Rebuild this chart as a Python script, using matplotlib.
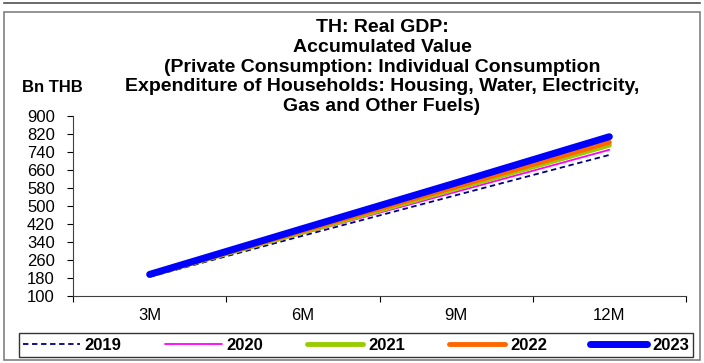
import numpy as np
import matplotlib
matplotlib.use('Agg')
import matplotlib.pyplot as plt
from matplotlib.patches import Rectangle
from matplotlib.lines import Line2D

plt.rcParams['font.family'] = ['Liberation Sans', 'DejaVu Sans']

periods = ['3M', '6M', '9M', '12M']
years = ['2019', '2020', '2021', '2022', '2023']
vals = {
    '2019': [185, 368, 548, 727],
    '2020': [190, 377, 563, 750],
    '2021': [192, 384, 577, 770],
    '2022': [193, 390, 586, 783],
    '2023': [196, 400, 603, 808],
}
styles = {
    '2019': dict(color='#000080', lw=1.3, ls=(0, (3, 2))),
    '2020': dict(color='#FF00FF', lw=1.3, ls='-'),
    '2021': dict(color='#99CC00', lw=3.5, ls='-'),
    '2022': dict(color='#FF6600', lw=3.5, ls='-'),
    '2023': dict(color='#0000FF', lw=5, ls='-'),
}

fig = plt.figure(figsize=(7.04, 3.63), dpi=100)
W, H = 704, 363
ax = fig.add_axes([73 / W, 1 - 296 / H, (686 - 73) / W, (296 - 116) / H])

x = np.arange(len(periods))
for y in years:
    st = styles[y]
    ax.plot(x, vals[y], color=st['color'], lw=st['lw'], ls=st['ls'],
            solid_capstyle='round', label=y)

ax.set_xlim(-0.5, 3.5)
ax.set_ylim(100, 900)
ax.set_yticks(np.arange(100, 901, 80))
ax.set_xticks(np.arange(-0.5, 3.6, 1))
ax.set_xticklabels([])
ax.set_xticks(x, minor=True)
ax.set_xticklabels(periods, minor=True)
ax.tick_params(axis='x', which='minor', length=0, labelsize=12, pad=9)
ax.tick_params(axis='x', which='major', length=4, direction='out')
ax.tick_params(axis='y', length=4, labelsize=12, pad=9, direction='out')
for s in ['top', 'right']:
    ax.spines[s].set_visible(False)
for s in ['left', 'bottom']:
    ax.spines[s].set_color('#404040')

title = ("TH: Real GDP:\nAccumulated Value\n(Private Consumption: Individual Consumption\n"
         "Expenditure of Households: Housing, Water, Electricity,\nGas and Other Fuels)")
fig.text(382 / W, 1 - 67 / H, title, ha='center', va='center', fontsize=14,
         fontweight='bold', linespacing=1.2)
fig.text(22 / W, 1 - 88 / H, 'Bn THB', ha='left', va='center', fontsize=12,
         fontweight='bold')

# frames
fig.patches.append(Rectangle((4 / W, 1 - 360 / H), 696 / W, 348 / H,
                             transform=fig.transFigure, fill=False,
                             ec='#808080', lw=1.2))
fig.lines.append(Line2D([4 / W, 700 / W], [1 - 3 / H, 1 - 3 / H],
                        transform=fig.transFigure, color='#505050', lw=1.2))

handles, labels = ax.get_legend_handles_labels()
leg = fig.legend(handles, labels, loc='center', ncol=5,
                 bbox_to_anchor=(356 / W, 1 - 345 / H), frameon=True,
                 fancybox=False, edgecolor='black',
                 handlelength=3.4, columnspacing=2.6, handletextpad=0.3,
                 borderpad=0.25, prop={'weight': 'bold', 'size': 12})
leg.get_frame().set_linewidth(1)

fig.savefig('out.png', dpi=100)
